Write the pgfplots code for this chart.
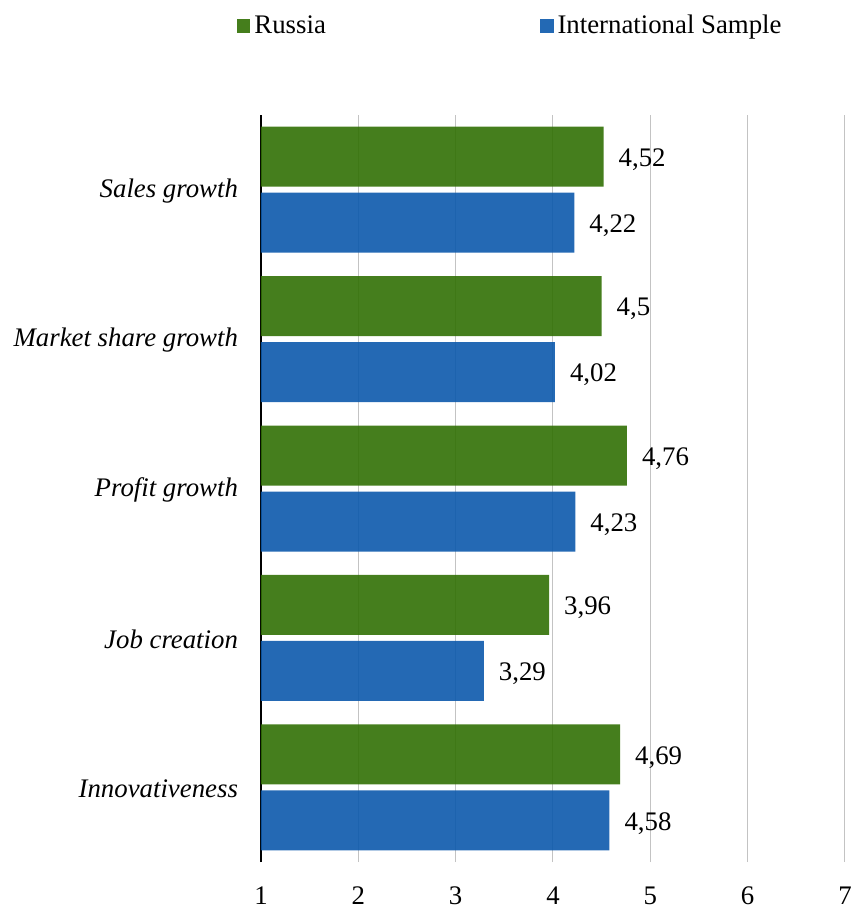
\documentclass[border=0pt]{standalone}
\usepackage{pgfplots}
\pgfplotsset{compat=1.18}
\usepackage{fontspec}
\setmainfont{Liberation Serif}
\definecolor{rus}{RGB}{49,112,4}
\definecolor{intl}{RGB}{12,89,172}
\definecolor{gridc}{RGB}{195,195,195}
\begin{document}
\begin{tikzpicture}[font=\fontsize{13.4pt}{15pt}\selectfont]
\useasboundingbox (0,0) rectangle (425.5pt,455.5pt);
\begin{axis}[
  at={(130.5pt,24.5pt)}, anchor=south west,
  scale only axis, width=292pt, height=373.5pt,
  xbar, bar width=30pt,
  xmin=1, xmax=7, ymin=-0.5, ymax=4.5,
  xtick={1,2,3,4,5,6,7},
  xticklabels={1,2,3,4,5,6,7},
  ytick={0,1,2,3,4},
  yticklabels={Innovativeness, Job creation, Profit growth, Market share growth, Sales growth},
  yticklabel style={font=\fontsize{13.4pt}{15pt}\selectfont\itshape, xshift=-8pt, yshift=-0.5pt},
  xticklabel style={yshift=-9pt},
  major tick length=0pt,
  axis x line*=bottom, axis y line*=left,
  x axis line style={draw=none},
  y axis line style={black, line width=1pt},
  xmajorgrids, major grid style={gridc, line width=0.5pt},
  /pgf/number format/.cd, use comma, 1000 sep={}, assume math mode=true,
  /pgfplots/.cd,
  nodes near coords,
  nodes near coords style={anchor=west, xshift=4pt, yshift=-1.5pt, black, text opacity=1, font=\fontsize{13.4pt}{15pt}\selectfont},
  legend columns=2,
  legend style={draw=none, inner sep=0pt, at={(-0.042,1.119)}, anchor=west,
    font=\fontsize{13.4pt}{15pt}\selectfont,
    /tikz/every even column/.append style={column sep=105pt}},
  legend image code/.code={\fill[#1] (0pt,-3.4pt) rectangle (6.8pt,3.4pt);},
  clip=false,
]
\addplot[fill=rus, draw=none, fill opacity=0.9, bar shift=16.5pt] coordinates {
  (4.52,4) (4.5,3) (4.76,2) (3.96,1) (4.69,0)
};
\addplot[fill=intl, draw=none, fill opacity=0.9, bar shift=-16.5pt] coordinates {
  (4.22,4) (4.02,3) (4.23,2) (3.29,1) (4.58,0)
};
\legend{Russia, International Sample}
\end{axis}
\end{tikzpicture}
\end{document}
